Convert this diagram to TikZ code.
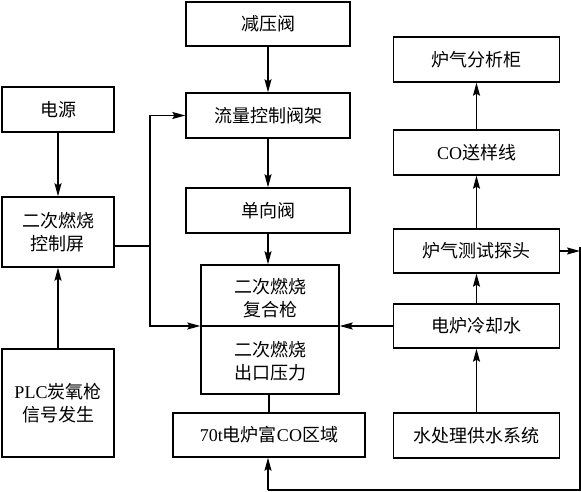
\documentclass[tikz,border=0pt]{standalone}
\usepackage{fontspec}
\setmainfont{Noto Sans CJK SC}
\newfontfamily\lat{Liberation Serif}
\usetikzlibrary{arrows.meta,calc}
\begin{document}
\begin{tikzpicture}[x=1pt,y=-1pt,
  line width=1.2pt,
  >={Stealth[length=13pt,width=7pt,inset=2pt]},
  box/.style={draw,line width=1.4pt,rectangle,align=center,inner sep=0pt,
    font=\fontsize{18}{23}\selectfont},
  lbl/.style={align=center,inner sep=0pt,font=\fontsize{18}{23}\selectfont}]
\useasboundingbox (0,0) rectangle (581,492);
% centre column
\node[box,minimum width=164pt,minimum height=44pt] (jy) at (268,24) {减压阀};
\node[box,minimum width=164pt,minimum height=45pt] (ll) at (268,115.5) {流量控制阀架};
\node[box,minimum width=164pt,minimum height=45pt] (dx) at (268,210.5) {单向阀};
\node[box,minimum width=138pt,minimum height=129pt] (big) at (270,329.5) {};
\node[lbl] (bt) at (270,298) {二次燃烧\\复合枪};
\node[lbl] (bb) at (270,361) {二次燃烧\\出口压力};
\coordinate (dv) at (270,326);
\draw[line width=1.3pt] (big.west |- dv) -- (big.east |- dv);
\node[box,minimum width=192pt,minimum height=44pt] (qy) at (269,435) {{\lat 70t}电炉富{\lat CO}区域};
% left column
\node[box,minimum width=112pt,minimum height=45pt] (dy) at (58,109.5) {电源};
\node[box,minimum width=112pt,minimum height=70pt] (kz) at (58,232) {二次燃烧\\控制屏};
\node[box,minimum width=112pt,minimum height=108pt] (plc) at (58,403) {{\lat PLC}炭氧枪\\信号发生};
% right column
\node[box,minimum width=166pt,minimum height=45pt] (fx) at (476.5,59.5) {炉气分析柜};
\node[box,minimum width=166pt,minimum height=45pt] (co) at (476.5,152.5) {{\lat CO}送样线};
\node[box,minimum width=166pt,minimum height=44pt] (tt) at (476.5,251) {炉气测试探头};
\node[box,minimum width=166pt,minimum height=44pt] (ls) at (476.5,326) {电炉冷却水};
\node[box,minimum width=166pt,minimum height=45pt] (sc) at (476.5,435.5) {水处理供水系统};
% junction coordinates
\coordinate (j1) at (150,246);
\coordinate (r1) at (580,251);
\coordinate (r0) at (580,247);
\coordinate (r2) at (580,490);
\coordinate (b1) at (268,490);
% connectors
\draw[->] (jy) -- (ll);
\draw[->] (ll) -- (dx);
\draw[->] (dx.south) -- (dx.south |- big.north);
\draw (big.south -| qy.north) -- (qy.north);
\draw[->] (dy) -- (kz);
\draw[->] (plc) -- (kz);
\draw (kz.east |- j1) -- (j1);
\draw[->] (j1) |- (ll.west);
\draw[->] (j1) |- (big.west |- dv);
\draw[->] (ls.west) -- (big.east |- ls.west);
\draw[->] (sc) -- (ls);
\draw[->] (ls) -- (tt);
\draw[->] (tt) -- (co);
\draw[->] (co) -- (fx);
\draw[->] (tt.east) -- (r1);
\draw (r0) -- (r2) -- (b1);
\draw[->] (b1) -- (b1 |- qy.south);
\end{tikzpicture}
\end{document}
